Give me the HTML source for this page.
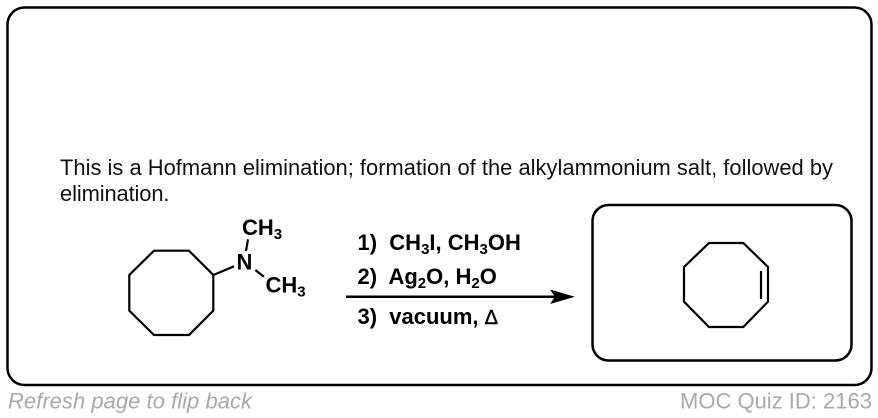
<!DOCTYPE html>
<html>
<head>
<meta charset="utf-8">
<style>
html,body{margin:0;padding:0;background:#fff}
svg{display:block}
text{font-family:"Liberation Sans",Arial,sans-serif;fill:#000}
.b{font-weight:bold;font-size:22px}
.s{font-size:15px}
.m{font-size:21.9px;fill:#111}
.g{font-size:22px;fill:#a9a9a9}
</style>
</head>
<body>
<svg width="878" height="418" viewBox="0 0 878 418" xmlns="http://www.w3.org/2000/svg">
<rect width="878" height="418" fill="#fff"/>
<rect x="7.5" y="7.5" width="864" height="377.5" rx="17" fill="#fff" stroke="#000" stroke-width="2.5"/>
<rect x="592.5" y="205" width="259" height="155.5" rx="16" fill="#fff" stroke="#000" stroke-width="2.5"/>

<text class="m" x="60" y="175" textLength="773" lengthAdjust="spacing">This is a Hofmann elimination; formation of the alkylammonium salt, followed by</text>
<text class="m" x="60" y="201" textLength="109.5" lengthAdjust="spacing">elimination.</text>

<g fill="none" stroke="#000" stroke-width="2.2" stroke-linejoin="miter">
<polygon points="154,250.7 189,250.7 213.3,275 213.3,310.7 189,335 154,335 129.3,310.7 129.3,275"/>
<line x1="213.3" y1="275" x2="234" y2="266.3"/>
<line x1="246" y1="251" x2="248" y2="239.3"/>
<line x1="255.3" y1="270" x2="264" y2="276.7"/>
<polygon points="709,243 743.3,243 768,267 768,301.7 743.3,327 709,327 684,301.7 684,267"/>
<line x1="761" y1="271" x2="761" y2="299"/>
</g>

<text class="b" x="236.5" y="269.5">N</text>
<text class="b" x="242" y="235">CH<tspan class="s" dy="4">3</tspan></text>
<text class="b" x="265.5" y="292.5">CH<tspan class="s" dy="4">3</tspan></text>

<text class="b" x="357.5" y="250" xml:space="preserve">1)  CH<tspan class="s" dy="4">3</tspan><tspan dy="-4">I, CH</tspan><tspan class="s" dy="4">3</tspan><tspan dy="-4">OH</tspan></text>
<text class="b" x="357.5" y="284" xml:space="preserve">2)  Ag<tspan class="s" dy="4">2</tspan><tspan dy="-4">O, H</tspan><tspan class="s" dy="4">2</tspan><tspan dy="-4">O</tspan></text>
<text class="b" x="357.5" y="324" xml:space="preserve">3)  vacuum, <tspan font-weight="normal" font-size="20" stroke="#000" stroke-width="0.4">Δ</tspan></text>

<line x1="346" y1="296.7" x2="556" y2="296.7" stroke="#000" stroke-width="2.5"/>
<polygon points="550,289.5 575,296.7 550,304 555,296.7" fill="#000"/>

<text class="g" x="8" y="408.5" font-style="italic" textLength="244" lengthAdjust="spacing">Refresh page to flip back</text>
<text class="g" x="680" y="408.5">MOC Quiz ID: 2163</text>
</svg>
</body>
</html>
